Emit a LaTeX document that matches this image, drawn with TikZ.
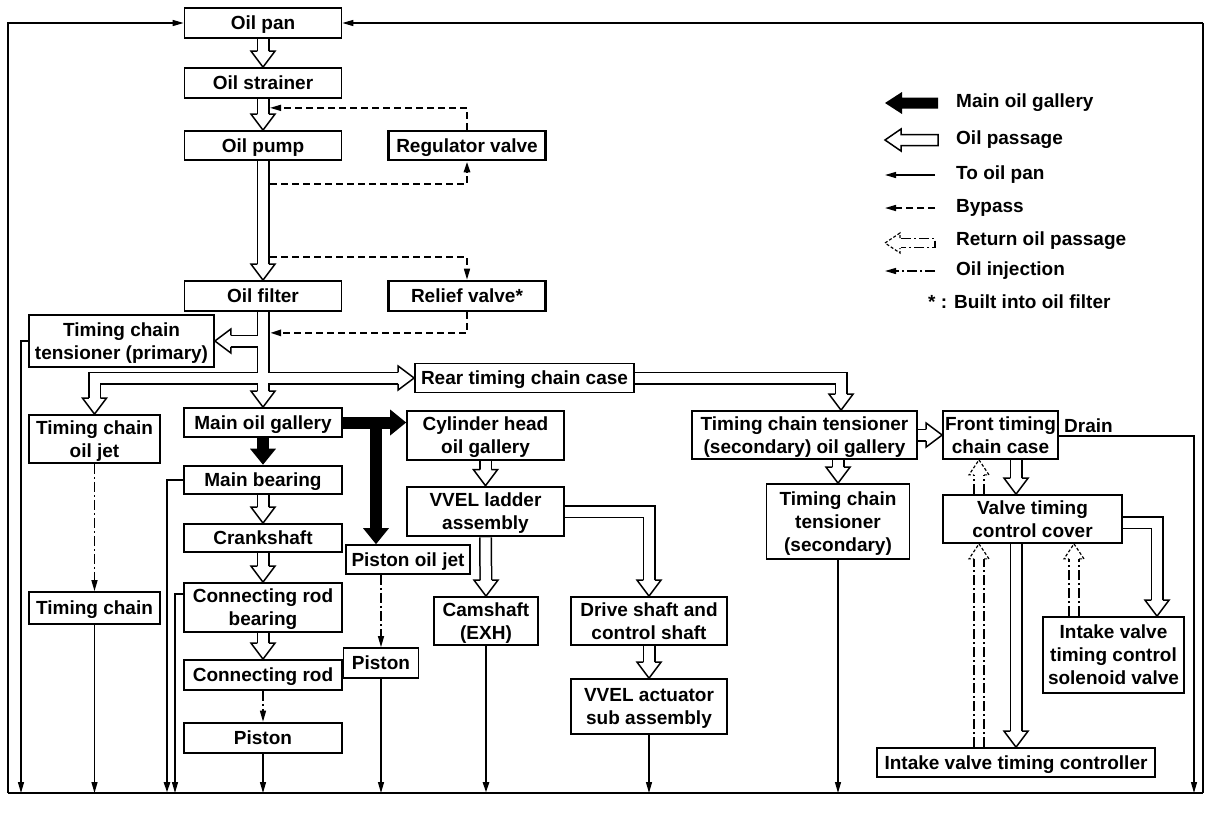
\documentclass[tikz,border=0pt]{standalone}
\usepackage{fontspec}
\setmainfont{Liberation Sans}
\usetikzlibrary{arrows.meta,calc}
\pgfdeclarelayer{background}
\pgfsetlayers{background,main}

\tikzset{
  lbl/.style={font=\bfseries\fontsize{19}{23}\selectfont},
  box/.style={lbl, draw, line width=1.7pt, align=center, inner sep=0pt, text depth=0pt},
  sz/.style 2 args={minimum width=#1pt, minimum height=#2pt},
  heavybox/.style={line width=2.6pt},
  heavy/.style={line width=2.6pt},
  thin tip/.style={-{Triangle[length=11pt,width=6pt]}},
  topan/.style={thin tip, line width=1.3pt},
  bypass/.style={thin tip, line width=1.5pt, dash pattern=on 7pt off 4pt},
  inject/.style={thin tip, line width=1.3pt, dash pattern=on 10pt off 3pt on 2pt off 3pt},
  ret/.style={dash pattern=on 10pt off 3pt on 2pt off 3pt},
  hd/.pic={\draw[line width=1.5pt, fill=white] (-5.75,-16) -- (-12,-16) -- (0,0) -- (12,-16) -- (5.75,-16);},
  hdblack/.pic={\fill (-13,-16) -- (0,0) -- (13,-16) -- cycle;},
  rethd/.pic={\draw[line width=1.2pt, dash pattern=on 3pt off 2pt] (-5,-15) -- (-10,-15) -- (0,0) -- (10,-15) -- (5,-15);},
}

\begin{document}
\begin{tikzpicture}[x=1pt,y=-1pt]
  \useasboundingbox (0,0) rectangle (1216,822);
  % frame corners
  \coordinate (tl) at (8,23);
  \coordinate (tr) at (1203,23);
  \coordinate (bl) at (8,793);
  \coordinate (br) at (1203,793);

  % pump side
  \node[box, sz={157}{30}] (pan) at (263,23) {Oil pan};
  \node[box, sz={157}{30}] (strainer) at (263,83) {Oil strainer};
  \node[box, sz={157}{29}] (pump) at (263,145.5) {Oil pump};
  \node[box, heavybox, sz={157}{29}] (regulator) at (467,145.5) {Regulator valve};
  \node[box, sz={157}{30}] (filter) at (263,296) {Oil filter};
  \node[box, heavybox, sz={157}{30}] (relief) at (467,296) {Relief valve*};

  % block
  \node[box, sz={185}{52}] (tenprim) at (121.5,341) {Timing chain\\tensioner (primary)};
  \node[box, sz={131}{48}] (jet) at (94.5,439) {Timing chain\\oil jet};
  \node[box, sz={131}{32}] (chain) at (94.5,608) {Timing chain};
  \node[box, sz={158}{29}] (gallery) at (263,422.5) {Main oil gallery};
  \node[box, heavybox, sz={158}{28}] (bearing) at (263,480) {Main bearing};
  \node[box, sz={158}{28}] (crank) at (263,538) {Crankshaft};
  \node[box, sz={158}{49}] (rodbearing) at (263,607.5) {Connecting rod\\bearing};
  \node[box, sz={158}{30}] (rod) at (263,675) {Connecting rod};
  \node[box, heavybox, sz={158}{30}] (piston) at (263,738) {Piston};
  \node[box, sz={124}{29}] (pistonjet) at (408,559.5) {Piston oil jet};
  \node[box, sz={75}{30}] (piston2) at (381,663) {Piston};

  % cylinder head
  \node[box, sz={219}{29}] (rear) at (524.5,378) {Rear timing chain case};
  \node[box, sz={157}{49}] (cylhead) at (485.5,435.5) {Cylinder head\\oil gallery};
  \node[box, heavybox, sz={157}{49}] (vvel) at (485.5,511.5) {VVEL ladder\\assembly};
  \node[box, sz={104}{48}] (cam) at (486,621) {Camshaft\\(EXH)};
  \node[box, sz={156}{48}] (drive) at (649,621) {Drive shaft and\\control shaft};
  \node[box, sz={156}{55}] (actuator) at (649,706.5) {VVEL actuator\\sub assembly};

  % front cover
  \node[box, sz={225}{48}] (tensgal) at (804.5,435) {Timing chain tensioner\\(secondary) oil gallery};
  \node[box, sz={115}{48}] (front) at (1000.5,435) {Front timing\\chain case};
  \node[box, sz={143}{75}] (tenssec) at (838,521.5) {Timing chain\\tensioner\\(secondary)};
  \node[box, sz={179}{48}] (cover) at (1032.5,519) {Valve timing\\control cover};
  \node[box, sz={141}{76}] (solenoid) at (1113.5,655) {Intake valve\\timing control\\solenoid valve};
  \node[box, sz={278}{29}] (controller) at (1016,762.5) {Intake valve timing controller};
  \node[lbl, anchor=west, inner sep=0pt] (drain) at (1064,426) {Drain};

  \coordinate (tgin) at ([xshift=36.5pt]tensgal.north);
  \coordinate (pj) at ([xshift=-32pt]pistonjet.north);
  \coordinate (svin) at ([xshift=43.5pt]solenoid.north);
  \coordinate (cvout) at ([yshift=-3.5pt]cover.east);
  \coordinate (rb) at ([xshift=-37pt]controller.north);
  \coordinate (rc) at ([xshift=-39.5pt]solenoid.north);

  % oil passages
  \begin{pgfonlayer}{background}
    \foreach \lw/\col in {13pt/black,10pt/white}{
      \draw[line width=\lw, color=\col, shorten >=15pt] (pan.south) -- (strainer.north);
      \draw[line width=\lw, color=\col, shorten >=15pt] (strainer.south) -- (pump.north);
      \draw[line width=\lw, color=\col, shorten >=15pt] (pump.south) -- (filter.north);
      \draw[line width=\lw, color=\col, shorten >=15pt] (filter.south) -- (gallery.north);
      \draw[line width=\lw, color=\col, shorten >=15pt] (filter.south |- tenprim.east) -- (tenprim.east);
      \draw[line width=\lw, color=\col, shorten >=15pt] (filter.south |- rear.west) -- (rear.west);
      \draw[line width=\lw, color=\col, shorten >=15pt] (filter.south |- rear.west) -| (jet.north);
      \draw[line width=\lw, color=\col, shorten >=15pt] (rear.east) -| (tgin);
      \draw[line width=\lw, color=\col, shorten >=15pt] (bearing.south) -- (crank.north);
      \draw[line width=\lw, color=\col, shorten >=15pt] (crank.south) -- (rodbearing.north);
      \draw[line width=\lw, color=\col, shorten >=15pt] (rodbearing.south) -- (rod.north);
      \draw[line width=\lw, color=\col, shorten >=15pt] (cylhead.south) -- (vvel.north);
      \draw[line width=\lw, color=\col, shorten >=15pt] (vvel.south) -- (cam.north);
      \draw[line width=\lw, color=\col, shorten >=15pt] (vvel.east) -| (drive.north);
      \draw[line width=\lw, color=\col, shorten >=15pt] (drive.south) -- (actuator.north);
      \draw[line width=\lw, color=\col, shorten >=15pt] (tensgal.east) -- (front.west);
      \draw[line width=\lw, color=\col, shorten >=15pt] (tenssec.north |- tensgal.south) -- (tenssec.north);
      \draw[line width=\lw, color=\col, shorten >=15pt] (controller.north |- front.south) -- (controller.north |- cover.north);
      \draw[line width=\lw, color=\col, shorten >=15pt] (controller.north |- cover.south) -- (controller.north);
      \draw[line width=\lw, color=\col, shorten >=15pt] (cvout) -| (svin);
    }
    % main oil gallery
    \draw[line width=12pt, shorten >=15pt] (gallery.south) -- (bearing.north);
    \draw[line width=12pt, shorten >=15pt] (gallery.east) -- (gallery.east -| cylhead.west);
    \draw[line width=12pt, shorten >=15pt] (pj |- gallery.east) -- (pj);
  \end{pgfonlayer}

  \pic at (strainer.north) {hd};
  \pic at (pump.north) {hd};
  \pic at (filter.north) {hd};
  \pic at (gallery.north) {hd};
  \pic[rotate=-90] at (tenprim.east) {hd};
  \pic[rotate=90] at (rear.west) {hd};
  \pic at (jet.north) {hd};
  \pic at (tgin) {hd};
  \pic at (crank.north) {hd};
  \pic at (rodbearing.north) {hd};
  \pic at (rod.north) {hd};
  \pic at (vvel.north) {hd};
  \pic at (cam.north) {hd};
  \pic at (drive.north) {hd};
  \pic at (actuator.north) {hd};
  \pic[rotate=90] at (front.west) {hd};
  \pic at (tenssec.north) {hd};
  \pic at (controller.north |- cover.north) {hd};
  \pic at (controller.north) {hd};
  \pic at (svin) {hd};
  \pic at (bearing.north) {hdblack};
  \pic[rotate=90] at (gallery.east -| cylhead.west) {hdblack};
  \pic at (pj) {hdblack};

  % return oil passages
  \foreach \s/\lw in {-5/1.8,5/1.1}{
    \draw[ret, line width=\lw pt, shorten >=15pt] ([xshift=\s pt]rb |- cover.north) -- ([xshift=\s pt]rb |- front.south);
    \draw[ret, line width=\lw pt, shorten >=15pt] ([xshift=\s pt]rb) -- ([xshift=\s pt]rb |- cover.south);
    \draw[ret, line width=\lw pt, shorten >=15pt] ([xshift=\s pt]rc) -- ([xshift=\s pt]rc |- cover.south);
  }
  \pic[rotate=180] at (rb |- front.south) {rethd};
  \pic[rotate=180] at (rb |- cover.south) {rethd};
  \pic[rotate=180] at (rc |- cover.south) {rethd};

  % bypass
  \draw[bypass] (regulator.north) |- ($(strainer.south)+(7,9)$);
  \draw[bypass, line width=2.6pt] ($(pump.south)+(7,23)$) -| (regulator.south);
  \draw[bypass] ($(filter.north)+(7,-23)$) -| (relief.north);
  \draw[bypass, line width=2.4pt] (relief.south) |- ($(filter.south)+(7,21)$);

  % oil injection
  \draw[inject] (jet.south) -- (chain.north);
  \draw[inject] (rod.south) -- (piston.north);
  \draw[inject] (pistonjet.south -| piston2.north) -- (piston2.north);

  % to oil pan
  \draw[topan] (bl) -- (tl) -- (pan.west);
  \draw[topan] (tr) -- (pan.east);
  \draw[line width=2.8pt] (br) -- (tr);
  \draw[line width=2.4pt] (bl) -- (br);
  \draw[topan] (tenprim.west) -| ([xshift=13pt]bl);
  \draw[topan] (chain.south) -- (chain.south |- bl);
  \draw[topan, heavy] (bearing.west) -| ([xshift=159pt]bl);
  \draw[topan] ([yshift=13.5pt]rodbearing.west) -| ([xshift=167pt]bl);
  \draw[topan] (piston.south) -- (piston.south |- bl);
  \draw[topan] (piston2.south) -- (piston2.south |- bl);
  \draw[topan, heavy] (cam.south) -- (cam.south |- bl);
  \draw[topan] (actuator.south) -- (actuator.south |- bl);
  \draw[topan] (tenssec.south) -- (tenssec.south |- bl);
  \draw[topan] ([yshift=-1pt]front.east) -| ([xshift=-9pt]br);

  % legend
  \fill (938,97.5) -- (902,97.5) -- (902,92) -- (885,103) -- (902,114) -- (902,108.5) -- (938,108.5) -- cycle;
  \draw[line width=1.5pt, fill=white] (938,134.5) -- (901,134.5) -- (901,129) -- (885,140) -- (901,151) -- (901,145.5) -- (938,145.5) -- cycle;
  \draw[topan] (935,175) -- (885,175);
  \draw[bypass] (935,208) -- (885,208);
  \draw[ret, line width=1.2pt] (901,238.5) -- (935,238.5) -- (935,247.5) -- (901,247.5);
  \pic[rotate=-90] at (885,243) {rethd};
  \draw[inject] (935,271) -- (885,271);
  \node[lbl, anchor=west, inner sep=0pt] (lg1) at (956,103) {Main oil gallery};
  \node[lbl, anchor=west, inner sep=0pt] (lg2) at (956,140) {Oil passage};
  \node[lbl, anchor=west, inner sep=0pt] (lg3) at (956,175) {To oil pan};
  \node[lbl, anchor=west, inner sep=0pt] (lg4) at (956,208) {Bypass};
  \node[lbl, anchor=west, inner sep=0pt] (lg5) at (956,241) {Return oil passage};
  \node[lbl, anchor=west, inner sep=0pt] (lg6) at (956,271) {Oil injection};
  \node[lbl, anchor=west, inner sep=0pt] (lg7) at (928,302) {* : Built into oil filter};
\end{tikzpicture}
\end{document}
